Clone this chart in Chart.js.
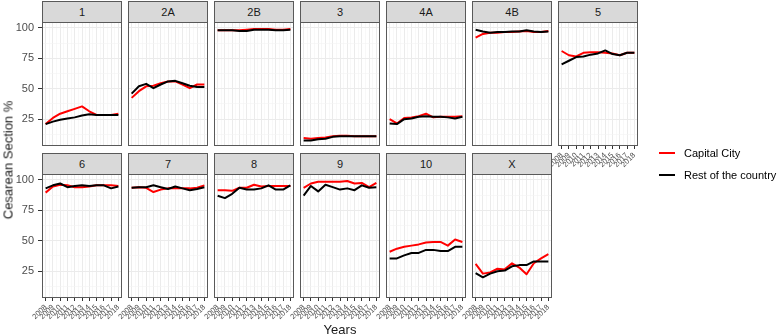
<!DOCTYPE html>
<html><head><meta charset="utf-8">
<script src="https://cdn.jsdelivr.net/npm/chart.js@4"></script>
<style>
body{margin:0;background:#fff;width:777px;height:336px;position:relative;overflow:hidden;font-family:"Liberation Sans",Arial,sans-serif;}
.strip{position:absolute;box-sizing:border-box;width:80px;height:21px;background:#d9d9d9;border:1px solid #595959;border-bottom:0;font-size:11px;color:#1a1a1a;text-align:center;line-height:20px;}
canvas{position:absolute;}
.ttl{position:absolute;font-size:13px;font-weight:normal;color:#1a1a1a;white-space:nowrap;}
.key{position:absolute;width:16px;height:2px;}
.lab{position:absolute;font-size:11px;color:#000;white-space:nowrap;line-height:12px;}
</style></head>
<body>
<script>
const years = [2008,2009,2010,2011,2012,2013,2014,2015,2016,2017,2018];
const regions = ['1','2A','2B','3','4A','4B','5','6','7','8','9','10','X'];
const seriesNames = ['Capital City','Rest of the country'];
const yTickValues = [25,50,75,100];

const cap1 = [21, 26, 29.5, 31.5, 33.5, 35.5, 31.5, 28.5, 28.5, 28.5, 29.5];
const rest1 = [21, 23, 24.5, 25.5, 26.5, 28, 29, 28.5, 28.5, 28.5, 28.5];
const cap2A = [42.5, 48, 52, 52.5, 54.5, 56, 56, 53.5, 50.5, 53.5, 53.5];
const rest2A = [46, 52, 54, 50.5, 53.5, 56, 56.5, 54.5, 52.5, 51.5, 51.5];
const cap2B = [98, 98, 98, 98, 98.5, 99, 99, 99, 98.5, 98.5, 99];
const rest2B = [98, 98, 98, 97.5, 97.5, 98.5, 98.5, 98.5, 98, 98, 98.5];
const cap3 = [9.5, 9, 9.5, 10, 11, 11.5, 11.5, 11, 11, 11, 11];
const rest3 = [7.5, 7.5, 8.5, 9, 10.5, 11, 11, 11, 11, 11, 11];
const cap4A = [25, 21.5, 26, 26.5, 27.5, 29.5, 26.5, 27, 27, 27, 27.5];
const rest4A = [21.5, 21, 25, 25.5, 27, 27.5, 27, 27, 26.5, 25.5, 27];
const cap4B = [92, 95, 96, 96, 96.5, 96.5, 97, 97.5, 96.5, 96.5, 97.5];
const rest4B = [98.5, 97, 96, 96.5, 96.5, 97, 97, 98, 97, 96.5, 97];
const cap5 = [81, 77.5, 76.5, 79.5, 80, 80, 79.5, 79, 77.5, 79.5, 79.5];
const rest5 = [70, 73, 76, 76.5, 78, 79, 81.5, 78.5, 77.5, 79.5, 79.5];
const cap6 = [89.5, 94.5, 96, 95.5, 94, 94, 94.5, 95.5, 95.5, 95.5, 95];
const rest6 = [93, 95.5, 97, 94, 95, 95.5, 95, 95.5, 95.5, 93, 94.5];
const cap7 = [93.5, 94, 93.5, 90, 92, 93, 93, 93, 93, 93.5, 95.5];
const rest7 = [93.5, 94, 94, 95.5, 94, 92.5, 94.5, 93, 91.5, 92.5, 94];
const cap8 = [91.5, 91.5, 91, 93.5, 93.5, 96, 94.5, 95, 95, 95, 95];
const rest8 = [87, 85, 88.5, 93.5, 92, 92, 93, 95.5, 92, 92, 95.5];
const cap9 = [93.5, 97, 98.5, 98.5, 98.5, 98.5, 99, 97, 97.5, 94, 97.5];
const rest9 = [87, 95, 90.5, 96, 94, 92, 93, 91.5, 95.5, 93.5, 94];
const cap10 = [41, 43.5, 45, 46, 47, 48.5, 49, 49, 46, 51, 49];
const rest10 = [35.5, 35.5, 38, 40, 40, 42.5, 42.5, 41.5, 41.5, 45, 45];
const capX = [31, 23, 24, 27, 26.5, 31.5, 28, 22.5, 31.5, 35.5, 39];
const restX = [23.5, 20, 23, 25, 25.5, 29, 30, 30, 33, 33, 33];

const capital = [cap1,cap2A,cap2B,cap3,cap4A,cap4B,cap5,cap6,cap7,cap8,cap9,cap10,capX];
const rest = [rest1,rest2A,rest2B,rest3,rest4A,rest4B,rest5,rest6,rest7,rest8,rest9,rest10,restX];

// layout
const colLeft = [42,128,214,300,386,472,558];
const rowTop = [22,174];
const PW = 80, PH = 124, PADL = 44, PADB = 34;

const panelBorder = {id:'panelBorder', afterDraw(c){
  const a=c.chartArea, x=c.ctx; x.save(); x.strokeStyle='#595959'; x.lineWidth=1;
  x.strokeRect(a.left+0.5,a.top+0.5,a.right-a.left-1,a.bottom-a.top-1); x.restore();
}};

const xTicks = []; for (let v=2008; v<=2018; v+=0.5) xTicks.push(v);
const yTicks = [12.5,25,37.5,50,62.5,75,87.5,100];
const isMajY = v => yTickValues.includes(v);

regions.forEach((name, i) => {
  const col = i < 7 ? i : i - 7;
  const row = i < 7 ? 0 : 1;
  const L = colLeft[col], T = rowTop[row];
  const showX = row === 1 || i === 6;
  const showY = col === 0;

  const strip = document.createElement('div');
  strip.className = 'strip'; strip.textContent = name;
  strip.style.left = L + 'px'; strip.style.top = (T - 21) + 'px';
  document.body.appendChild(strip);

  const cv = document.createElement('canvas');
  cv.width = PADL + PW + 2; cv.height = 1 + PH + PADB;
  cv.style.left = (L - PADL) + 'px'; cv.style.top = (T - 1) + 'px';
  cv.style.width = cv.width + 'px'; cv.style.height = cv.height + 'px';
  document.body.appendChild(cv);

  new Chart(cv, {
    type: 'line',
    data: { datasets: [
      { label: seriesNames[1], data: years.map((y,k)=>({x:y, y:rest[i][k]})), borderColor:'#000000', backgroundColor:'#000000' },
      { label: seriesNames[0], data: years.map((y,k)=>({x:y, y:capital[i][k]})), borderColor:'#ff0000', backgroundColor:'#ff0000' }
    ]},
    options: {
      responsive:false, animation:false, devicePixelRatio:1,
      layout:{padding:{top:1,right:2,left:0,bottom:0}},
      plugins:{legend:{display:false}, tooltip:{enabled:false}},
      elements:{point:{radius:0}, line:{borderWidth:2, tension:0, borderJoinStyle:'round'}},
      scales:{
        x:{
          type:'linear', min:2007.5, max:2018.5,
          afterBuildTicks(s){ s.ticks = xTicks.map(v=>({value:v})); },
          afterFit(s){ s.height = PADB; s.paddingLeft = 0; s.paddingRight = 0; },
          border:{display:false},
          grid:{
            color: c => Number.isInteger(c.tick.value) ? '#ebebeb' : '#f3f3f3',
            lineWidth: c => Number.isInteger(c.tick.value) ? 1 : 0.6,
            drawTicks: showX, tickLength:3,
            tickColor: c => Number.isInteger(c.tick.value) ? '#333333' : 'rgba(0,0,0,0)',
            tickWidth: 1
          },
          ticks:{
            display: showX, autoSkip:false, minRotation:45, maxRotation:45,
            font:{size:7.5, family:'"Liberation Sans", Arial, sans-serif'}, color:'#4d4d4d', padding:2,
            callback: v => Number.isInteger(v) ? String(v) : ''
          }
        },
        y:{
          min:3, max:104.8,
          afterBuildTicks(s){ s.ticks = yTicks.map(v=>({value:v})); },
          afterFit(s){ s.width = PADL; s.paddingTop = 0; s.paddingBottom = 0; },
          border:{display:false},
          grid:{
            color: c => isMajY(c.tick.value) ? '#ebebeb' : '#f3f3f3',
            lineWidth: c => isMajY(c.tick.value) ? 1 : 0.6,
            drawTicks: showY, tickLength:4,
            tickColor: c => isMajY(c.tick.value) ? '#333333' : 'rgba(0,0,0,0)',
            tickWidth: 1
          },
          ticks:{
            display: showY, font:{size:11, family:'"Liberation Sans", Arial, sans-serif'}, color:'#4d4d4d', padding:4,
            callback: v => isMajY(v) ? String(v) : ''
          }
        }
      }
    },
    plugins:[panelBorder]
  });
});

// axis titles
const yt = document.createElement('div'); yt.className='ttl'; yt.textContent='Cesarean Section %';
yt.style.left='8px'; yt.style.top='160px'; yt.style.transform='translate(-50%,-50%) rotate(-90deg)';
document.body.appendChild(yt);
const xt = document.createElement('div'); xt.className='ttl'; xt.textContent='Years';
xt.style.left='340px'; xt.style.top='329px'; xt.style.transform='translate(-50%,-50%)';
document.body.appendChild(xt);

// legend
[['#ff0000',153],['#000000',175]].forEach(([c,y],k)=>{
  const ln=document.createElement('div'); ln.className='key'; ln.style.background=c;
  ln.style.left='659px'; ln.style.top=(y-1)+'px'; document.body.appendChild(ln);
  const lb=document.createElement('div'); lb.className='lab'; lb.textContent=seriesNames[k];
  lb.style.left='684px'; lb.style.top=(y-6)+'px'; document.body.appendChild(lb);
});
</script>
</body></html>
